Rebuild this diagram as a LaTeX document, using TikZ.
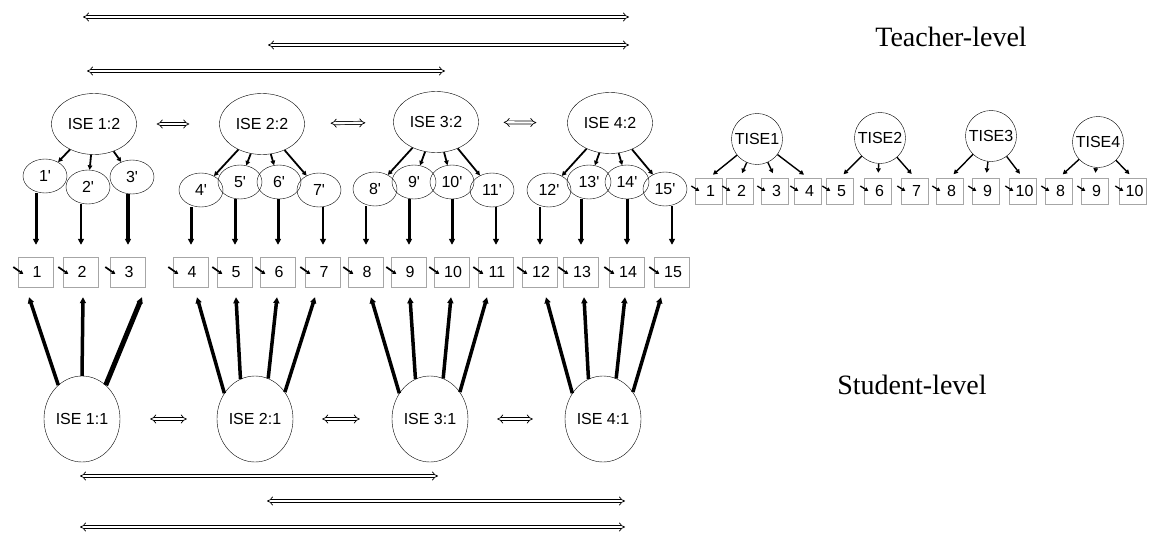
\documentclass[tikz,border=0pt]{standalone}
\usepackage{fontspec}
\setmainfont{Liberation Serif}
\setsansfont{Liberation Sans}
\usetikzlibrary{shapes.geometric, arrows.meta}

\tikzset{
  ise2/.style={ellipse, draw, inner sep=0pt, minimum width=85pt, minimum height=61pt},
  fac/.style={ellipse, draw, inner sep=0pt, minimum width=44pt, minimum height=34pt},
  obs/.style={rectangle, draw=gray!70, inner sep=0pt, minimum width=35pt, minimum height=30pt},
  ise1/.style={ellipse, draw, inner sep=0pt, minimum width=76pt, minimum height=86pt},
  tise/.style={circle, draw, inner sep=0pt, minimum size=51pt},
  tobs/.style={rectangle, draw=gray!70, inner sep=0pt, minimum width=27pt, minimum height=26pt},
  dbl/.style={double, double distance=2.4pt, line width=0.7pt, {Implies}-{Implies}},
  load/.style={-{Triangle[length=6pt,width=6pt]}, line width=2.5pt},
  thin load/.style={-{Triangle[length=4.5pt,width=4.5pt]}, line width=1.8pt},
  res/.style={-{Triangle[length=3.5pt,width=4pt]}, line width=1.7pt},
}

\begin{document}
\begin{tikzpicture}[x=1pt, y=-1pt,
      every node/.style={font=\fontsize{16}{19}\selectfont\sffamily}]
    \useasboundingbox (0,0) rectangle (1149,535);

    % teacher-level ISE factors
    \node[ise2] (t1) at (94,124)  {ISE 1:2};
    \node[ise2] (t2) at (262,124) {ISE 2:2};
    \node[ise2] (t3) at (436,122) {ISE 3:2};
    \node[ise2] (t4) at (610,123) {ISE 4:2};

    % item-level factors
    \foreach \n/\x/\y in {1/45/176, 2/88/187, 3/132/177, 4/201/190, 5/240/182,
        6/279/182, 7/319/190, 8/375/189, 9/414/182, 10/452/182, 11/492/190,
        12/549/190, 13/589/182, 14/627/182, 15/665/189}
      \node[fac] (f\n) at (\x,\y) {\n\textquotesingle};

    % observed items
    \foreach \n/\x in {1/36, 2/81, 3/128, 4/191, 5/235, 6/278, 7/323, 8/366,
        9/409, 10/452, 11/496, 12/540, 13/581, 14/627, 15/672}
      \node[obs] (b\n) at (\x,272) {\hspace*{2pt}\n};

    % student-level ISE factors
    \node[ise1] (s1) at (82,419)  {ISE 1:1};
    \node[ise1] (s2) at (255,419) {ISE 2:1};
    \node[ise1] (s3) at (430,419) {ISE 3:1};
    \node[ise1] (s4) at (603,419) {ISE 4:1};

    % teacher items
    \node[tise] (c1) at (757,139)  {TISE1};
    \node[tise] (c2) at (880,138)  {TISE2};
    \node[tise] (c3) at (991,136)  {TISE3};
    \node[tise] (c4) at (1098,142) {TISE4};
    \foreach \n/\lab/\x in {1/1/709, 2/2/740, 3/3/775, 4/4/808, 5/5/840,
        6/6/878, 7/7/915, 8/8/950, 9/9/986, 10/10/1023, 11/8/1059,
        12/9/1095, 13/10/1133}
      \node[tobs] (d\n) at (\x,191) {\hspace*{3pt}\lab};

    \node[font=\fontsize{28}{32}\selectfont\rmfamily] (tlev) at (951,37)  {Teacher-level};
    \node[font=\fontsize{28}{32}\selectfont\rmfamily] (slev) at (912,385) {Student-level};

    % loadings, teacher level
    \foreach \t/\n in {1/1, 1/2, 1/3, 2/4, 2/5, 2/6, 2/7, 3/8, 3/9, 3/10, 3/11,
        4/12, 4/13, 4/14, 4/15}
      \draw[thin load] (t\t) -- (f\n);
    \foreach \n/\w in {1/3, 2/2, 3/3.5, 4/3, 5/3, 6/3, 7/2.5, 8/2.5, 9/3,
        10/3, 11/2.5, 12/2.5, 13/3, 14/3, 15/2.5}
      \draw[load, line width=\w pt] (f\n.south -| b\n.north) -- ([yshift=12pt]b\n.north);

    % loadings, student level
    \foreach \s/\a/\n/\dx/\w in {1/125/1/-7/3.5, 1/90/2/2/3.5, 1/55/3/14/5,
        2/140/4/6/3.5, 2/110/5/1/3.5, 2/72/6/-1/3.5, 2/42/7/-8/3.5,
        3/140/8/5/3.5, 3/110/9/1/3.5, 3/72/10/-1/3.5, 3/42/11/-9/3.5,
        4/140/12/6/3.5, 4/110/13/3/3.5, 4/72/14/-2/3.5, 4/42/15/-11/3.5}
      \draw[load, line width=\w pt] (s\s.\a) -- ([xshift=\dx pt, yshift=-10pt]b\n.south);

    % residuals
    \foreach \n in {1,...,15}
      \draw[res] ([shift={(-5pt,5pt)}]b\n.west) -- ++(10pt,-7pt);
    \foreach \n in {1,...,13}
      \draw[res, line width=1.3pt] ([shift={(-4pt,5pt)}]d\n.west) -- ++(8pt,-5pt);

    % teacher item loadings
    \foreach \c/\n in {1/1, 1/2, 1/3, 1/4, 2/5, 2/6, 2/7, 3/8, 3/9, 3/10,
        4/11, 4/12, 4/13}
      \draw[thin load, line width=1.4pt, shorten >=5pt] (c\c) -- (d\n.north);

    % correlations between neighbours
    \draw[dbl, shorten <=20pt, shorten >=30pt] (t1) -- (t2);
    \draw[dbl, shorten <=26pt, shorten >=28pt] (t2) -- (t3);
    \draw[dbl, shorten <=25pt, shorten >=31pt] (t3) -- (t4);
    \draw[dbl, shorten <=30pt, shorten >=30pt] (s1) -- (s2);
    \draw[dbl, shorten <=29pt, shorten >=32pt] (s2) -- (s3);
    \draw[dbl, shorten <=29pt, shorten >=32pt] (s3) -- (s4);

    % long correlations
    \coordinate (u1) at (83,17);  \coordinate (u2) at (629,17);
    \coordinate (u3) at (268,45); \coordinate (u4) at (629,45);
    \coordinate (u5) at (87,71);  \coordinate (u6) at (445,71);
    \coordinate (l1) at (80,476); \coordinate (l2) at (438,476);
    \coordinate (l3) at (267,501); \coordinate (l4) at (625,501);
    \coordinate (l5) at (80,527); \coordinate (l6) at (625,527);
    \draw[dbl] (u1) -- (u2);
    \draw[dbl] (u3) -- (u4);
    \draw[dbl] (u5) -- (u6);
    \draw[dbl] (l1) -- (l2);
    \draw[dbl] (l3) -- (l4);
    \draw[dbl] (l5) -- (l6);
\end{tikzpicture}
\end{document}
